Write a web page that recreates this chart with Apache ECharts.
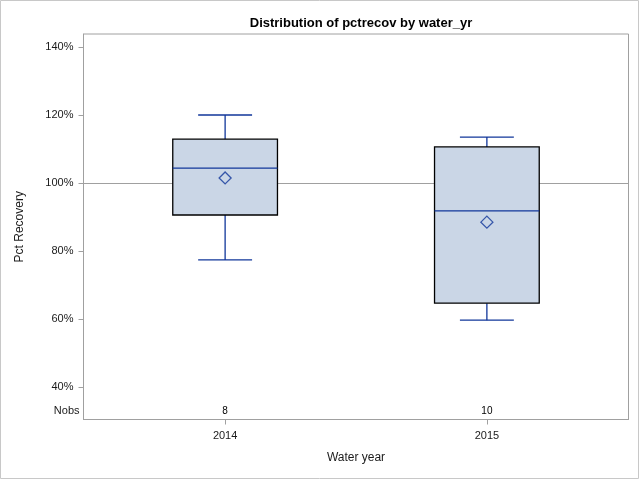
<!DOCTYPE html>
<html>
<head>
<meta charset="utf-8">
<script src="https://cdn.jsdelivr.net/npm/echarts@6/dist/echarts.min.js"></script>
<style>html,body{margin:0;padding:0;background:#fff}#c{width:640px;height:480px}</style>
</head>
<body>
<div id="c"></div>
<script>
const categories = ['2014', '2015'];
const whiskerLow = [77.4, 59.7];
const q1 = [90.6, 64.7];
const median = [104.4, 91.8];
const q3 = [112.9, 110.6];
const whiskerHigh = [120.0, 113.5];
const means = [101.5, 88.5];
const nobs = [8, 10];
const yTicks = [40, 60, 80, 100, 120, 140];
const refValue = 100;

const FONT = '"Liberation Sans", Arial, sans-serif';
const BLUE = '#10369A';
const FILL = '#CAD6E6';
const TXT = '#1a1a1a';

const boxData = categories.map((c, i) => [i, whiskerLow[i], q1[i], median[i], q3[i], whiskerHigh[i]]);
const meanData = categories.map((c, i) => [i, means[i]]);
const nobsData = categories.map((c, i) => [i, nobs[i]]);

const chart = echarts.init(document.getElementById('c'), null, {renderer: 'canvas'});
chart.setOption({
  animation: false,
  backgroundColor: '#fff',
  title: {
    text: 'Distribution of pctrecov by water_yr',
    left: 356, top: 12, textAlign: 'center',
    textStyle: {fontFamily: FONT, fontSize: 13, fontWeight: 'bold', color: '#000'}
  },
  grid: {left: 83.5, right: 11.5, top: 34, bottom: 60.5, show: true, borderColor: '#A0A0A0', borderWidth: 1, backgroundColor: 'transparent'},
  xAxis: {
    type: 'value', min: -0.541, max: 1.541,
    name: 'Water year', nameLocation: 'middle', nameGap: 32,
    nameTextStyle: {fontFamily: FONT, fontSize: 12, color: TXT},
    axisLine: {show: true, onZero: false, lineStyle: {color: '#A0A0A0'}},
    axisTick: {show: true, length: 5, lineStyle: {color: '#A0A0A0'}, customValues: categories.map((c, i) => i)},
    axisLabel: {fontFamily: FONT, fontSize: 11, color: TXT, margin: 11,
      customValues: categories.map((c, i) => i),
      formatter: v => categories[Math.round(v)] || ''},
    splitLine: {show: false}
  },
  yAxis: {
    type: 'value', min: 30.5, max: 143.8,
    name: 'Pct Recovery', nameLocation: 'middle', nameGap: 58, nameRotate: 90,
    nameTextStyle: {fontFamily: FONT, fontSize: 12, color: TXT},
    axisLine: {show: true, onZero: false, lineStyle: {color: '#A0A0A0'}},
    axisTick: {show: true, length: 5, lineStyle: {color: '#A0A0A0'}, customValues: yTicks},
    axisLabel: {fontFamily: FONT, fontSize: 11, color: TXT, margin: 10, customValues: yTicks,
      formatter: v => v + '%'},
    splitLine: {show: false}
  },
  graphic: [
    {type: 'rect', shape: {x: 0.5, y: 0.5, width: 638, height: 478}, style: {fill: 'none', stroke: '#C8C8C8', lineWidth: 1}, silent: true, z: -10},
    {type: 'text', right: 640 - 79.5, top: 405, style: {text: 'Nobs', fontFamily: FONT, fontSize: 11, fill: TXT, textAlign: 'right'}}
  ],
  series: [
    {
      type: 'custom',
      data: boxData,
      encode: {x: 0, y: [1, 2, 3, 4, 5]},
      renderItem: function (params, api) {
        const xi = api.value(0);
        const band = api.size([1, 0])[0];
        const half = band * 0.2;
        const capHalf = band * 0.103;
        const pLo = api.coord([xi, api.value(1)]);
        const pQ1 = api.coord([xi, api.value(2)]);
        const pMed = api.coord([xi, api.value(3)]);
        const pQ3 = api.coord([xi, api.value(4)]);
        const pHi = api.coord([xi, api.value(5)]);
        const cx = pLo[0];
        const lineStyle = {stroke: BLUE, lineWidth: 1.3};
        return {
          type: 'group',
          children: [
            {type: 'line', shape: {x1: cx, y1: pHi[1], x2: cx, y2: pQ3[1]}, style: lineStyle},
            {type: 'line', shape: {x1: cx, y1: pQ1[1], x2: cx, y2: pLo[1]}, style: lineStyle},
            {type: 'line', shape: {x1: cx - capHalf, y1: pHi[1], x2: cx + capHalf, y2: pHi[1]}, style: lineStyle},
            {type: 'line', shape: {x1: cx - capHalf, y1: pLo[1], x2: cx + capHalf, y2: pLo[1]}, style: lineStyle},
            {type: 'rect', shape: {x: cx - half, y: pQ3[1], width: half * 2, height: pQ1[1] - pQ3[1]}, style: {fill: FILL, stroke: '#000', lineWidth: 1.3}},
            {type: 'line', shape: {x1: cx - half, y1: pMed[1], x2: cx + half, y2: pMed[1]}, style: lineStyle, z2: 5}
          ]
        };
      },
      markLine: {
        silent: true, symbol: 'none', label: {show: false},
        lineStyle: {color: '#A0A0A0', type: 'solid', width: 1},
        data: [{yAxis: refValue}],
        z: 1
      },
      z: 2
    },
    {
      type: 'scatter',
      data: meanData,
      symbol: 'path://M0,-1L1,0L0,1L-1,0Z',
      symbolSize: 12,
      itemStyle: {color: 'none', borderColor: BLUE, borderWidth: 1.3},
      z: 5
    },
    {
      type: 'custom',
      data: nobsData,
      encode: {x: 0},
      renderItem: function (params, api) {
        const p = api.coord([api.value(0), 100]);
        return {
          type: 'text',
          style: {
            text: String(api.value(1)), x: p[0], y: params.coordSys.y + params.coordSys.height - 8.5,
            textAlign: 'center', textVerticalAlign: 'middle',
            fontFamily: FONT, fontSize: 10, fill: '#000'
          }
        };
      },
      z: 5
    }
  ]
});
</script>
</body>
</html>
